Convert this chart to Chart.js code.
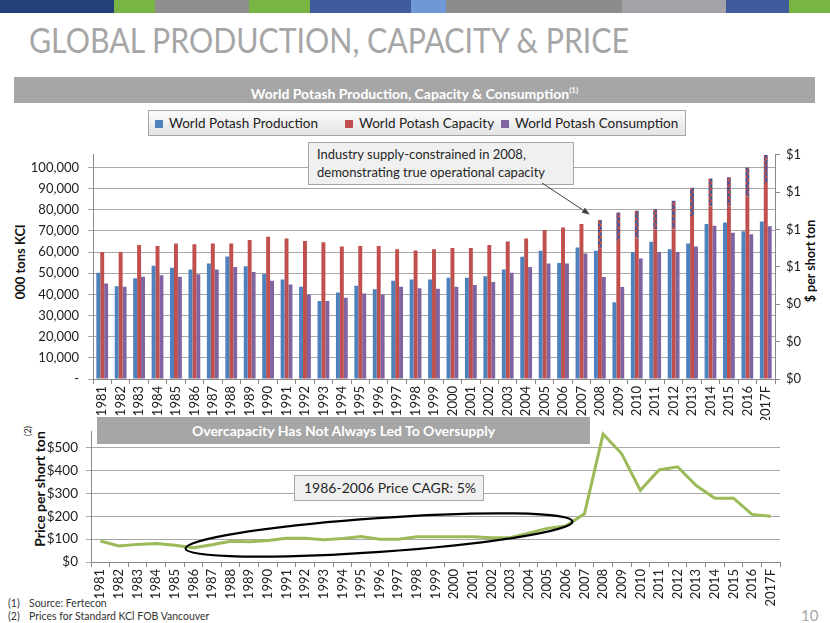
<!DOCTYPE html>
<html><head><meta charset="utf-8">
<script src="https://cdn.jsdelivr.net/npm/chart.js@4"></script>
<style>
body{margin:0;width:830px;height:623px;position:relative;background:#fff;font-family:Lato,'Open Sans',sans-serif;overflow:hidden}
.abs{position:absolute}
#stripe{left:0;top:0;width:830px;height:13px;display:flex}
#stripe div{height:13px}
#title{left:29px;top:18px;font-size:35px;color:#a6a6a6;white-space:nowrap;transform:scaleX(0.865);transform-origin:left top}
.graybar{background:#a6a6a6;color:#fff;font-weight:bold;text-align:center}
#hdr{left:14px;top:77px;width:801px;height:26px;line-height:26px;font-size:14px}
#hdr sup{font-size:8px;vertical-align:6px;font-weight:bold}
#legend{left:148px;top:110px;width:536px;height:24px;border:1px solid #a6a6a6;background:linear-gradient(#fbfbfb,#e4e4e4);font-size:13.5px;color:#222}
.li{position:absolute;top:4px;white-space:nowrap}
.li i{display:inline-block;width:8px;height:8px;margin-right:6px;vertical-align:0px}
.box{background:#f0f0f0;border:1px solid #a6a6a6;color:#262626;white-space:nowrap}
#ann{left:308px;top:142px;width:256px;height:39px;padding:2px 0 0 8px;font-size:13px;line-height:18px;z-index:3}
#cagr{left:294px;top:475px;width:179px;height:24px;padding-left:9px;font-size:14px;line-height:24px;z-index:3}
#over{left:97px;top:417px;width:493px;height:27px;line-height:27px;font-size:14px;z-index:3}
.rot{transform:rotate(-90deg);transform-origin:center center;white-space:nowrap;font-weight:bold;color:#111;text-align:center}
#ytl{left:-40px;top:254px;width:120px;height:16px;font-size:13px}
#ytr{left:751px;top:253px;width:120px;height:16px;font-size:12.5px}
#ytb{left:-20px;top:481px;width:120px;height:16px;font-size:14px;line-height:16px}
#n2{left:18px;top:425px;width:20px;height:12px;line-height:12px;font-size:9px;font-weight:normal;color:#222}
.fn{left:8px;font-size:10.5px;color:#333;white-space:nowrap}
.fn span{display:inline-block;width:21px}
#pg{left:801px;top:606px;font-size:15px;color:#a6a6a6}
canvas{position:absolute;left:0}
#cTop{top:138px;z-index:1}
#cBot{top:415px;z-index:1}
svg{position:absolute;left:0;top:0;z-index:4}
</style></head><body>
<div id="stripe" class="abs">
<div style="width:114px;background:#23407a"></div>
<div style="width:41px;background:#79b543"></div>
<div style="width:94px;background:#8e8e8e"></div>
<div style="width:61px;background:#79b543"></div>
<div style="width:101px;background:#3f5b9c"></div>
<div style="width:35px;background:#6e98d6"></div>
<div style="width:176px;background:#8c8c8c"></div>
<div style="width:104px;background:#a3a3a7"></div>
<div style="width:63px;background:#3f5b9c"></div>
<div style="width:41px;background:#79b543"></div>
</div>
<div id="title" class="abs">GLOBAL PRODUCTION, CAPACITY &amp; PRICE</div>
<div id="hdr" class="abs graybar">World Potash Production, Capacity &amp; Consumption<sup>(1)</sup></div>
<div id="legend" class="abs">
<div class="li" style="left:6px"><i style="background:#4f81bd"></i>World Potash Production</div>
<div class="li" style="left:196px"><i style="background:#c0504d"></i>World Potash Capacity</div>
<div class="li" style="left:352px"><i style="background:#8064a2"></i>World Potash Consumption</div>
</div>
<div id="ann" class="abs box">Industry supply-constrained in 2008,<br>demonstrating true operational capacity</div>
<div id="over" class="abs graybar">Overcapacity Has Not Always Led To Oversupply</div>
<div id="cagr" class="abs box">1986-2006 Price CAGR: 5%</div>
<div id="ytl" class="abs rot">000 tons KCl</div>
<div id="ytr" class="abs rot">$ per short ton</div>
<div id="ytb" class="abs rot">Price per short ton</div>
<div id="n2" class="abs rot">(2)</div>
<div class="abs fn" style="top:597px"><span>(1)</span>Source: Fertecon</div>
<div class="abs fn" style="top:610px"><span>(2)</span>Prices for Standard KCl FOB Vancouver</div>
<div id="pg" class="abs">10</div>
<canvas id="cTop" width="830" height="282"></canvas>
<canvas id="cBot" width="830" height="208"></canvas>
<svg width="830" height="623">
<defs><marker id="ah" markerWidth="8" markerHeight="6" refX="7" refY="3" orient="auto"><path d="M0,0 L8,3 L0,6 Z" fill="#404040"/></marker></defs>
<line x1="542" y1="183" x2="589" y2="214" stroke="#404040" stroke-width="1" marker-end="url(#ah)"/>
<ellipse cx="379" cy="535" rx="194" ry="17" transform="rotate(-4 379 535)" fill="none" stroke="#000" stroke-width="2.2"/>
</svg>
<script>
const years = ['1981','1982','1983','1984','1985','1986','1987','1988','1989','1990','1991','1992','1993','1994','1995','1996','1997','1998','1999','2000','2001','2002','2003','2004','2005','2006','2007','2008','2009','2010','2011','2012','2013','2014','2015','2016','2017F'];
const production = [50200,43900,47600,53500,52600,51800,54600,57900,53300,49700,47100,43600,36900,40900,44100,42400,46400,47100,47100,47900,47900,48600,51800,57800,60600,54900,62200,60600,36300,60000,64900,61400,64100,73300,74000,69800,74500];
const capacityOperational = [60000,60000,63400,62900,64100,63700,64100,64100,65700,67300,66400,65300,64600,62600,62900,62900,61400,60800,61400,61900,61900,63400,65000,66400,70400,71600,73300,61600,65300,66400,70700,70700,77100,81600,81600,86300,92700];
const capacityTop = [null,null,null,null,null,null,null,null,null,null,null,null,null,null,null,null,null,null,null,null,null,null,null,null,null,null,null,75200,78700,79600,80200,84300,90400,94800,95400,100000,106000];
const consumption = [45100,43600,48300,49100,48300,49500,51800,53000,50600,46400,44700,40000,36900,38400,40400,40000,43600,42900,42700,43600,44400,45900,50200,53000,54600,54600,59300,48200,43500,57000,60000,60000,62600,72500,69100,68400,72200];
const price = [92,70,77,81,73,62,75,91,88,94,104,104,97,103,111,99,99,110,110,110,110,106,106,126,147,157,211,559,473,313,402,416,334,279,279,208,200];
const leftTicks = [0,10000,20000,30000,40000,50000,60000,70000,80000,90000,100000];
const rightTicks = [0,0.2,0.4,0.6,0.8,1.0,1.2];
const priceTicks = [0,100,200,300,400,500];

const capacityExtra = capacityTop.map((t,i)=> t==null ? null : t - capacityOperational[i]);

function makePattern(){
  const c=document.createElement('canvas'); c.width=5; c.height=6;
  const g=c.getContext('2d');
  g.fillStyle='#c0504d'; g.fillRect(0,0,5,6);
  g.strokeStyle='#2d5aa8'; g.lineWidth=1.3;
  g.beginPath(); g.moveTo(0,0); g.lineTo(4.5,3); g.lineTo(0,6); g.stroke();
  return document.getElementById('cTop').getContext('2d').createPattern(c,'repeat');
}
const font13 = {family:'Lato', size:13};
const axisColor = '#888888';
const gridColor = '#a8a8a8';
const setTicks = arr => s => { s.ticks = arr.map(v=>({value:v})); };

new Chart(document.getElementById('cTop'), {
  type:'bar',
  data:{labels:years, datasets:[
    {label:'World Potash Production', data:production, backgroundColor:'#4f81bd', stack:'a'},
    {label:'World Potash Capacity', data:capacityOperational, backgroundColor:'#c0504d', stack:'b'},
    {label:'World Potash Capacity (nameplate)', data:capacityExtra, backgroundColor:makePattern(), stack:'b'},
    {label:'World Potash Consumption', data:consumption, backgroundColor:'#8064a2', stack:'c'}
  ]},
  options:{
    responsive:false, animation:false, events:[],
    layout:{padding:{top:8,left:0,right:0,bottom:0}},
    plugins:{legend:{display:false}, tooltip:{enabled:false}},
    datasets:{bar:{categoryPercentage:0.64, barPercentage:1}},
    scales:{
      x:{stacked:true,
        grid:{drawOnChartArea:false, tickLength:5, color:axisColor, offset:true},
        border:{color:axisColor},
        ticks:{autoSkip:false, minRotation:90, maxRotation:90, padding:2, font:font13, color:'#222'},
        afterFit:s=>{s.height=41;}},
      y:{stacked:true, position:'left', min:0, max:106000,
        grid:{color:gridColor, tickLength:5},
        border:{color:axisColor},
        ticks:{autoSkip:false, padding:9, font:font13, color:'#222',
          callback:v=> v===0 ? '-' : v.toLocaleString('en-US')},
        afterBuildTicks:setTicks(leftTicks),
        afterFit:s=>{s.width=93;}},
      y1:{position:'right', min:0, max:1.2,
        grid:{drawOnChartArea:false, tickLength:5, color:axisColor},
        border:{color:axisColor},
        ticks:{autoSkip:false, padding:6, font:font13, color:'#222',
          callback:v=>'$'+Math.round(v)},
        afterBuildTicks:setTicks(rightTicks),
        afterFit:s=>{s.width=55;}}
    }
  }
});

new Chart(document.getElementById('cBot'), {
  type:'line',
  data:{labels:years, datasets:[
    {label:'Price', data:price, borderColor:'#9bbb59', borderWidth:3, pointRadius:0, tension:0, fill:false}
  ]},
  options:{
    responsive:false, animation:false, events:[],
    layout:{padding:{top:7,left:0,right:50,bottom:0}},
    plugins:{legend:{display:false}, tooltip:{enabled:false}},
    scales:{
      x:{offset:true,
        grid:{drawOnChartArea:false, tickLength:5, color:axisColor, offset:true},
        border:{color:axisColor},
        ticks:{autoSkip:false, minRotation:90, maxRotation:90, padding:2, font:font13, color:'#222'},
        afterFit:s=>{s.height=61;}},
      y:{min:0, max:572,
        grid:{color:gridColor, tickLength:5},
        border:{color:axisColor},
        ticks:{autoSkip:false, padding:8, font:{family:'Lato',size:13.5}, color:'#222',
          callback:v=>'$'+v},
        afterBuildTicks:setTicks(priceTicks),
        afterFit:s=>{s.width=91;}}
    }
  }
});
</script>
</body></html>
